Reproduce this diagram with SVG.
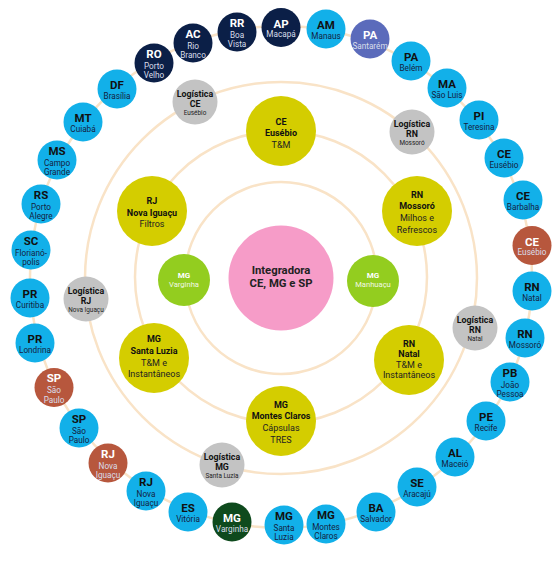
<svg xmlns="http://www.w3.org/2000/svg" width="560" height="561" viewBox="0 0 560 561">
<style>
text{font-family:Roboto,"Liberation Sans",sans-serif;text-anchor:middle;dominant-baseline:central}
.ring{fill:none;stroke:#f9e3c7;stroke-width:2.5}
.blue{fill:#12b0e9}.navy{fill:#0b1f47}.slate{fill:#5b6bbb}.brown{fill:#b7573d}.dkg{fill:#0e4a1d}
.yel{fill:#d4cd00}.grn{fill:#93cd1f}.pink{fill:#f69cc8}.gry{fill:#c3c3c3}
.ab{font-size:11.5px;font-weight:bold}
.ct{font-size:8.2px}
.d .ab{fill:#111}.d .ct{fill:#14223f}
.w .ab{fill:#fff}.w .ct{fill:#d9deea}
.lg .l1{font-size:8.8px;font-weight:bold;fill:#111}
.lg .l3{font-size:6.4px;fill:#222}
.yb{font-size:9px;font-weight:bold;fill:#111}
.yr{font-size:9px;fill:#222}
.gb{font-size:8px;font-weight:bold;fill:#fff}
.gr{font-size:7.6px;fill:#f1f8e4}
.pk{font-size:11.3px;font-weight:bold;fill:#222}
</style>
<g id="connectors">
<circle class="ring" cx="281" cy="278" r="96"/>
<circle class="ring" cx="281" cy="277" r="146"/>
<circle class="ring" cx="281" cy="278" r="196"/>
<circle class="ring" cx="281" cy="277" r="251"/>
</g>
<g id="center"><circle class="pink" cx="281" cy="278" r="52.5"/><text class="pk" x="281" y="270">Integradora</text><text class="pk" x="281" y="283">CE, MG e SP</text></g>
<g id="mg-varginha-inner"><circle class="grn" cx="184" cy="280" r="26"/><text class="gb" x="184" y="275">MG</text><text class="gr" x="184" y="284">Varginha</text></g>
<g id="mg-manhuacu"><circle class="grn" cx="373" cy="281" r="26"/><text class="gb" x="373" y="275">MG</text><text class="gr" x="373" y="284">Manhuaçu</text></g>
<g id="y-ce-eusebio"><circle class="yel" cx="281" cy="131" r="35"/><text class="yb" x="281" y="122">CE</text><text class="yb" x="281" y="133">Eusébio</text><text class="yr" x="281" y="144.5">T&amp;M</text></g>
<g id="y-rj-nova-iguacu"><circle class="yel" cx="152" cy="211" r="35"/><text class="yb" x="152" y="201">RJ</text><text class="yb" x="152" y="212.5">Nova Iguaçu</text><text class="yr" x="152" y="224">Filtros</text></g>
<g id="y-rn-mossoro"><circle class="yel" cx="417" cy="211" r="35"/><text class="yb" x="417" y="194.5">RN</text><text class="yb" x="417" y="206">Mossoró</text><text class="yr" x="417" y="218">Milhos e</text><text class="yr" x="417" y="229.5">Refrescos</text></g>
<g id="y-mg-santa-luzia"><circle class="yel" cx="154" cy="358" r="35"/><text class="yb" x="154" y="338.5">MG</text><text class="yb" x="154" y="350.5">Santa Luzia</text><text class="yr" x="154" y="362.5">T&amp;M e</text><text class="yr" x="154" y="374">Instantâneos</text></g>
<g id="y-rn-natal"><circle class="yel" cx="409" cy="360" r="35"/><text class="yb" x="409" y="343.5">RN</text><text class="yb" x="409" y="354">Natal</text><text class="yr" x="409" y="364.5">T&amp;M e</text><text class="yr" x="409" y="375">Instantâneos</text></g>
<g id="y-mg-montes-claros"><circle class="yel" cx="281" cy="421" r="35"/><text class="yb" x="281" y="404.5">MG</text><text class="yb" x="281" y="416">Montes Claros</text><text class="yr" x="281" y="428">Cápsulas</text><text class="yr" x="281" y="439.5">TRES</text></g>
<g id="log-ce" class="lg"><circle class="gry" cx="195" cy="102" r="22.5"/><text class="l1" x="195" y="94">Logística</text><text class="l1" x="195" y="104">CE</text><text class="l3" x="195" y="112.5">Eusébio</text></g>
<g id="log-rn-mossoro" class="lg"><circle class="gry" cx="412" cy="132" r="22.5"/><text class="l1" x="412" y="124">Logística</text><text class="l1" x="412" y="134">RN</text><text class="l3" x="412" y="142.5">Mossoró</text></g>
<g id="log-rj" class="lg"><circle class="gry" cx="86" cy="299" r="22.5"/><text class="l1" x="86" y="291">Logística</text><text class="l1" x="86" y="301">RJ</text><text class="l3" x="86" y="309.5">Nova Iguaçu</text></g>
<g id="log-rn-natal" class="lg"><circle class="gry" cx="475" cy="328" r="22.5"/><text class="l1" x="475" y="320">Logística</text><text class="l1" x="475" y="330">RN</text><text class="l3" x="475" y="338.5">Natal</text></g>
<g id="log-mg" class="lg"><circle class="gry" cx="222" cy="465" r="22.5"/><text class="l1" x="222" y="457">Logística</text><text class="l1" x="222" y="467">MG</text><text class="l3" x="222" y="475.5">Santa Luzia</text></g>
<g id="ro" class="w"><circle class="navy" cx="154" cy="63" r="19.5"/><text class="ab" x="154" y="53.5">RO</text><text class="ct" x="154" y="65.5">Porto</text><text class="ct" x="154" y="75">Velho</text></g>
<g id="ac" class="w"><circle class="navy" cx="193" cy="43" r="19.5"/><text class="ab" x="193" y="33.5">AC</text><text class="ct" x="193" y="45.5">Rio</text><text class="ct" x="193" y="55">Branco</text></g>
<g id="rr" class="w"><circle class="navy" cx="237" cy="32" r="19.5"/><text class="ab" x="237" y="22.5">RR</text><text class="ct" x="237" y="34.5">Boa</text><text class="ct" x="237" y="44">Vista</text></g>
<g id="ap" class="w"><circle class="navy" cx="281" cy="27.5" r="19.5"/><text class="ab" x="281" y="23.5">AP</text><text class="ct" x="281" y="34">Macapá</text></g>
<g id="am" class="d"><circle class="blue" cx="326" cy="29" r="19.5"/><text class="ab" x="326" y="25">AM</text><text class="ct" x="326" y="35.5">Manaus</text></g>
<g id="pa-santarem" class="w"><circle class="slate" cx="370" cy="39" r="19.5"/><text class="ab" x="370" y="35">PA</text><text class="ct" x="370" y="45.5">Santarém</text></g>
<g id="pa-belem" class="d"><circle class="blue" cx="411" cy="61" r="19.5"/><text class="ab" x="411" y="57">PA</text><text class="ct" x="411" y="67.5">Belém</text></g>
<g id="ma" class="d"><circle class="blue" cx="447" cy="88" r="19.5"/><text class="ab" x="447" y="84">MA</text><text class="ct" x="447" y="94.5">São Luis</text></g>
<g id="pi" class="d"><circle class="blue" cx="479" cy="120" r="19.5"/><text class="ab" x="479" y="116">PI</text><text class="ct" x="479" y="126.5">Teresina</text></g>
<g id="ce-eusebio" class="d"><circle class="blue" cx="504" cy="158" r="19.5"/><text class="ab" x="504" y="154">CE</text><text class="ct" x="504" y="164.5">Eusébio</text></g>
<g id="ce-barbalha" class="d"><circle class="blue" cx="523" cy="200" r="19.5"/><text class="ab" x="523" y="196">CE</text><text class="ct" x="523" y="206.5">Barbalha</text></g>
<g id="ce-eusebio-2" class="w"><circle class="brown" cx="532" cy="245.5" r="19.5"/><text class="ab" x="532" y="241.5">CE</text><text class="ct" x="532" y="252">Eusébio</text></g>
<g id="rn-natal" class="d"><circle class="blue" cx="532" cy="291" r="19.5"/><text class="ab" x="532" y="287">RN</text><text class="ct" x="532" y="297.5">Natal</text></g>
<g id="rn-mossoro" class="d"><circle class="blue" cx="525" cy="338" r="19.5"/><text class="ab" x="525" y="334">RN</text><text class="ct" x="525" y="344.5">Mossoró</text></g>
<g id="pb" class="d"><circle class="blue" cx="510" cy="382" r="19.5"/><text class="ab" x="510" y="372.5">PB</text><text class="ct" x="510" y="384.5">João</text><text class="ct" x="510" y="394">Pessoa</text></g>
<g id="pe" class="d"><circle class="blue" cx="486" cy="421" r="19.5"/><text class="ab" x="486" y="417">PE</text><text class="ct" x="486" y="427.5">Recife</text></g>
<g id="al" class="d"><circle class="blue" cx="455" cy="457" r="19.5"/><text class="ab" x="455" y="453">AL</text><text class="ct" x="455" y="463.5">Maceió</text></g>
<g id="se" class="d"><circle class="blue" cx="417" cy="487" r="19.5"/><text class="ab" x="417" y="483">SE</text><text class="ct" x="417" y="493.5">Aracajú</text></g>
<g id="ba" class="d"><circle class="blue" cx="376" cy="512" r="19.5"/><text class="ab" x="376" y="508">BA</text><text class="ct" x="376" y="518.5">Salvador</text></g>
<g id="mg-montes-claros" class="d"><circle class="blue" cx="326" cy="524" r="19.5"/><text class="ab" x="326" y="514.5">MG</text><text class="ct" x="326" y="526.5">Montes</text><text class="ct" x="326" y="536">Claros</text></g>
<g id="mg-santa-luzia" class="d"><circle class="blue" cx="284" cy="525" r="19.5"/><text class="ab" x="284" y="515.5">MG</text><text class="ct" x="284" y="527.5">Santa</text><text class="ct" x="284" y="537">Luzia</text></g>
<g id="mg-varginha" class="w"><circle class="dkg" cx="232" cy="522" r="19.5"/><text class="ab" x="232" y="518">MG</text><text class="ct" x="232" y="528.5">Varginha</text></g>
<g id="es" class="d"><circle class="blue" cx="188" cy="512" r="19.5"/><text class="ab" x="188" y="508">ES</text><text class="ct" x="188" y="518.5">Vitória</text></g>
<g id="rj-nova-iguacu" class="d"><circle class="blue" cx="146" cy="491" r="19.5"/><text class="ab" x="146" y="481.5">RJ</text><text class="ct" x="146" y="493.5">Nova</text><text class="ct" x="146" y="503">Iguaçu</text></g>
<g id="rj-nova-iguacu-2" class="w"><circle class="brown" cx="108" cy="463" r="19.5"/><text class="ab" x="108" y="453.5">RJ</text><text class="ct" x="108" y="465.5">Nova</text><text class="ct" x="108" y="475">Iguaçu</text></g>
<g id="sp" class="d"><circle class="blue" cx="79" cy="428" r="19.5"/><text class="ab" x="79" y="418.5">SP</text><text class="ct" x="79" y="430.5">São</text><text class="ct" x="79" y="440">Paulo</text></g>
<g id="sp-2" class="w"><circle class="brown" cx="54" cy="387.5" r="19.5"/><text class="ab" x="54" y="378">SP</text><text class="ct" x="54" y="390">São</text><text class="ct" x="54" y="399.5">Paulo</text></g>
<g id="pr-londrina" class="d"><circle class="blue" cx="35" cy="343" r="19.5"/><text class="ab" x="35" y="339">PR</text><text class="ct" x="35" y="349.5">Londrina</text></g>
<g id="pr-curitiba" class="d"><circle class="blue" cx="30" cy="298" r="19.5"/><text class="ab" x="30" y="294">PR</text><text class="ct" x="30" y="304.5">Curitiba</text></g>
<g id="sc" class="d"><circle class="blue" cx="31" cy="250" r="19.5"/><text class="ab" x="31" y="240.5">SC</text><text class="ct" x="31" y="252.5">Florianó-</text><text class="ct" x="31" y="262">polis</text></g>
<g id="rs" class="d"><circle class="blue" cx="41" cy="204" r="19.5"/><text class="ab" x="41" y="194.5">RS</text><text class="ct" x="41" y="206.5">Porto</text><text class="ct" x="41" y="216">Alegre</text></g>
<g id="ms" class="d"><circle class="blue" cx="57" cy="160" r="19.5"/><text class="ab" x="57" y="150.5">MS</text><text class="ct" x="57" y="162.5">Campo</text><text class="ct" x="57" y="172">Grande</text></g>
<g id="mt" class="d"><circle class="blue" cx="83" cy="122" r="19.5"/><text class="ab" x="83" y="118">MT</text><text class="ct" x="83" y="128.5">Cuiabá</text></g>
<g id="df" class="d"><circle class="blue" cx="117" cy="89" r="19.5"/><text class="ab" x="117" y="85">DF</text><text class="ct" x="117" y="95.5">Brasília</text></g>
</svg>
